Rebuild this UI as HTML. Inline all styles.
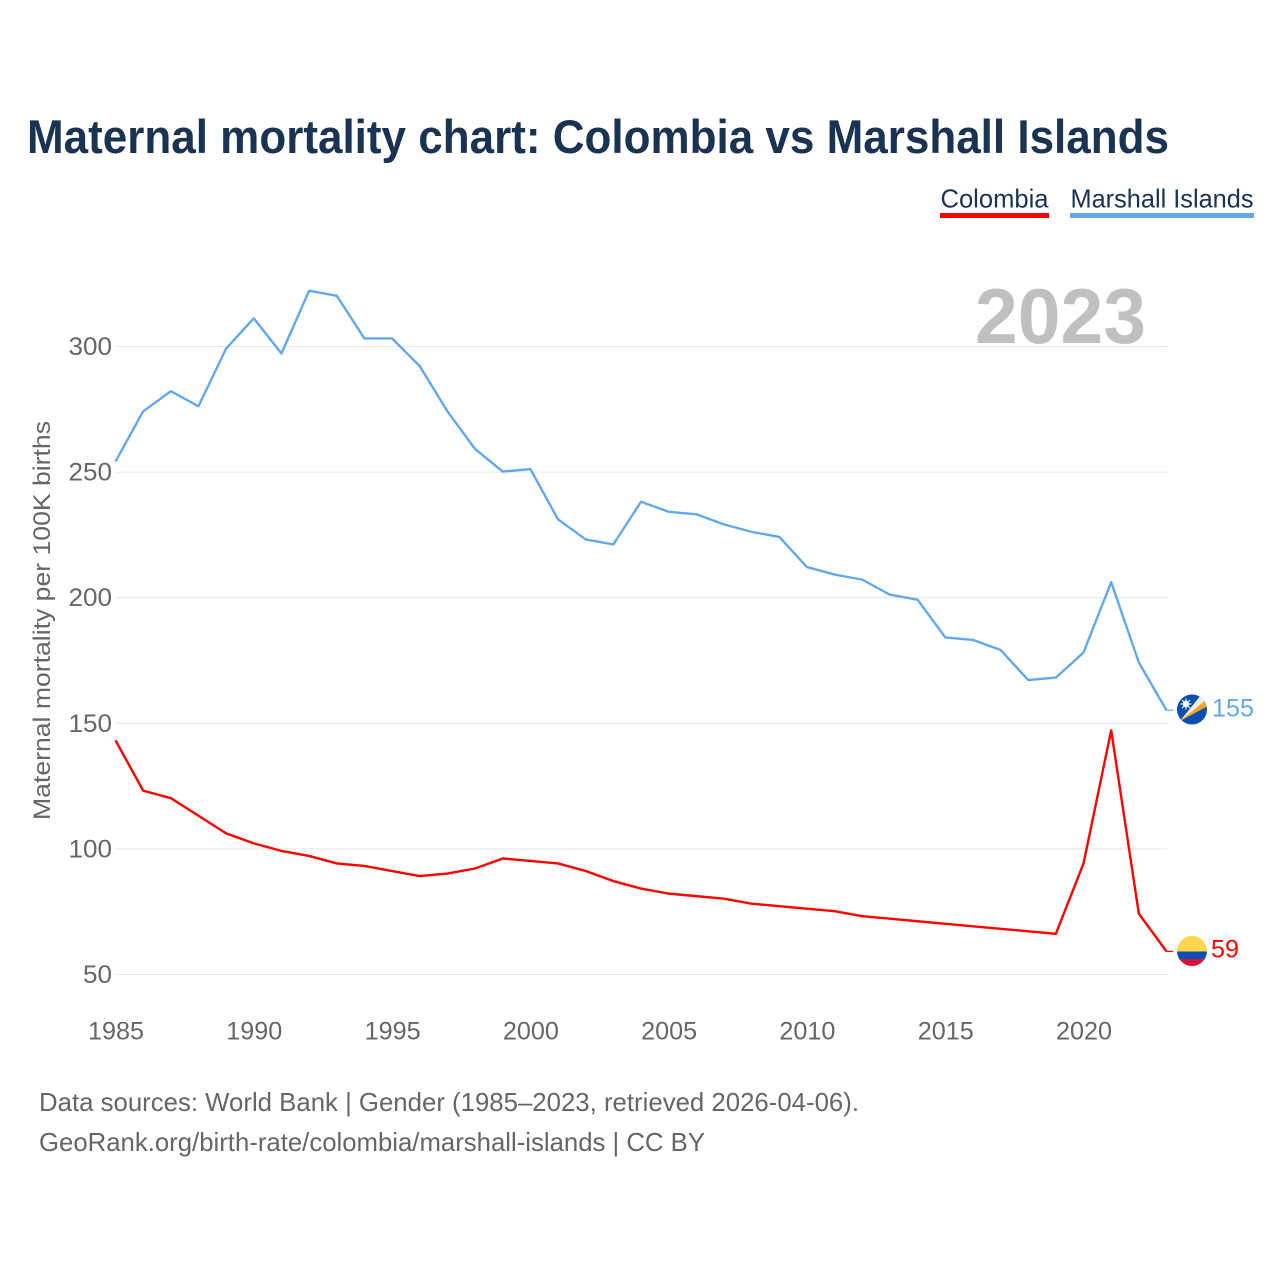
<!DOCTYPE html>
<html lang="en">
<head>
<meta charset="utf-8">
<title>Maternal mortality chart: Colombia vs Marshall Islands</title>
<style>
html,body{margin:0;padding:0;background:#fff;width:1280px;height:1280px;overflow:hidden}
svg{display:block}
text{font-family:"Liberation Sans",sans-serif}
</style>
</head>
<body>
<svg id="chart" xmlns="http://www.w3.org/2000/svg" width="1280" height="1280" viewBox="0 0 1280 1280">
  <rect x="0" y="0" width="1280" height="1280" fill="#ffffff"/>
  <text x="27" y="153" font-size="47" font-weight="700" fill="#1a3353" textLength="1142" lengthAdjust="spacingAndGlyphs">Maternal mortality chart: Colombia vs Marshall Islands</text>

  <g>
    <text x="940.5" y="207.5" font-size="26" fill="#1a3353" textLength="108" lengthAdjust="spacingAndGlyphs">Colombia</text>
    <rect x="940" y="213" width="109" height="5" fill="#ff0000"/>
  </g>
  <g>
    <text x="1070.5" y="207.5" font-size="26" fill="#1a3353" textLength="183" lengthAdjust="spacingAndGlyphs">Marshall Islands</text>
    <rect x="1070" y="213" width="184" height="5" fill="#64a8ec"/>
  </g>

  <g id="grid"></g>
  <text x="975" y="343" font-size="78" font-weight="700" fill="#c0c0c0" textLength="171" lengthAdjust="spacingAndGlyphs">2023</text>
  <g id="yticks"></g>
  <g id="xticks"></g>
  <text transform="translate(50,820) rotate(-90)" x="0" y="0" font-size="24" fill="#666666" textLength="399" lengthAdjust="spacingAndGlyphs">Maternal mortality per 100K births</text>

  <g id="series"></g>

  <defs>
    <clipPath id="clip-mh"><circle cx="1192" cy="709.5" r="15"/></clipPath>
    <clipPath id="clip-co"><circle cx="1192" cy="951" r="15"/></clipPath>
  </defs>
  <g clip-path="url(#clip-mh)">
    <rect x="1177" y="694" width="30" height="31" fill="#0a4fb0"/>
    <polygon points="1180,721 1201,695 1208,700" fill="#f0f0f0"/>
    <polygon points="1180,721 1207,699 1208,706" fill="#f5a623"/>
    <circle cx="1186" cy="704" r="3.2" fill="#ffffff"/>
    <path d="M1186 698.5V709.5M1180.5 704H1191.5M1182 700L1190 708M1190 700L1182 708" stroke="#ffffff" stroke-width="1.1"/>
  </g>
  <g clip-path="url(#clip-co)">
    <rect x="1177" y="936" width="30" height="15.5" fill="#fdd54f"/>
    <rect x="1177" y="951.5" width="30" height="7.5" fill="#0a4fb0"/>
    <rect x="1177" y="959" width="30" height="7" fill="#d8103a"/>
  </g>
  <text id="end-mh" x="1212" y="716.5" font-size="25" fill="#64a8ec" textLength="42" lengthAdjust="spacingAndGlyphs"></text>
  <text id="end-co" x="1211" y="957.5" font-size="25" fill="#ff0000" textLength="28" lengthAdjust="spacingAndGlyphs"></text>

  <text x="39" y="1111" font-size="26" fill="#666666" textLength="820" lengthAdjust="spacingAndGlyphs">Data sources: World Bank | Gender (1985–2023, retrieved 2026-04-06).</text>
  <text x="39" y="1151" font-size="26" fill="#666666" textLength="666" lengthAdjust="spacingAndGlyphs">GeoRank.org/birth-rate/colombia/marshall-islands | CC BY</text>
</svg>
<script>
const startYear = 1985;
const colombiaValues = [143,123,120,113,106,102,99,97,94,93,91,89,90,92,96,95,94,91,87,84,82,81,80,78,77,76,75,73,72,71,70,69,68,67,66,94,147,74,59];
const marshallValues = [254,274,282,276,299,311,297,322,320,303,303,292,274,259,250,251,231,223,221,238,234,233,229,226,224,212,209,207,201,199,184,183,179,167,168,178,206,174,155];
const yTickValues = [50,100,150,200,250,300];
const xTickYears = [1985,1990,1995,2000,2005,2010,2015,2020];

const NS = 'http://www.w3.org/2000/svg';
function xScale(year) { return 116 + (year - 1985) * (1167 - 116) / 38; }
function yScale(v) { return 974.5 - (v - 50) * (974.5 - 346.5) / 250; }

const grid = document.getElementById('grid');
const yticks = document.getElementById('yticks');
const xticks = document.getElementById('xticks');
const series = document.getElementById('series');

yTickValues.forEach(function (v) {
  const line = document.createElementNS(NS, 'line');
  
  
  line.setAttribute('x1', 116);
  line.setAttribute('x2', 1167);
  line.setAttribute('y1', yScale(v));
  line.setAttribute('y2', yScale(v));
  line.setAttribute('stroke', '#e6e6e6');
  line.setAttribute('stroke-width', '1');
  grid.appendChild(line);

  const t = document.createElementNS(NS, 'text');
  
  
  const s = String(v);
  const w = s.length * 14.5;
  t.setAttribute('x', 112 - w);
  t.setAttribute('y', yScale(v) + 8.5);
  t.setAttribute('font-size', '25');
  t.setAttribute('fill', '#666666');
  t.setAttribute('textLength', w);
  t.setAttribute('lengthAdjust', 'spacingAndGlyphs');
  t.textContent = s;
  yticks.appendChild(t);
});

xTickYears.forEach(function (yr) {
  const t = document.createElementNS(NS, 'text');
  
  
  t.setAttribute('x', xScale(yr) - 28);
  t.setAttribute('y', 1039.5);
  t.setAttribute('font-size', '25');
  t.setAttribute('fill', '#666666');
  t.setAttribute('textLength', 56);
  t.setAttribute('lengthAdjust', 'spacingAndGlyphs');
  t.textContent = String(yr);
  xticks.appendChild(t);
});

function pathFor(values) {
  const pts = values.map(function (v, i) {
    return (xScale(startYear + i) - 0.5).toFixed(2) + ',' + (yScale(v) - 0.5).toFixed(2);
  });
  return 'M' + pts.join('L');
}

function connectorFor(values) {
  const last = values[values.length - 1];
  const year = startYear + values.length - 1;
  const y = (yScale(last) - 0.5).toFixed(2);
  return 'M' + (xScale(year) - 0.5).toFixed(2) + ',' + y + 'L' + (xScale(year) + 6).toFixed(2) + ',' + y;
}

const marshallLine = document.createElementNS(NS, 'path');


marshallLine.setAttribute('d', pathFor(marshallValues));
marshallLine.setAttribute('fill', 'none');
marshallLine.setAttribute('stroke', '#64a8ec');
marshallLine.setAttribute('stroke-width', '2.4');
marshallLine.setAttribute('stroke-linejoin', 'round');
series.appendChild(marshallLine);

const marshallConnector = document.createElementNS(NS, 'path');


marshallConnector.setAttribute('d', connectorFor(marshallValues));
marshallConnector.setAttribute('fill', 'none');
marshallConnector.setAttribute('stroke', '#64a8ec');
marshallConnector.setAttribute('stroke-width', '1.2');
series.appendChild(marshallConnector);

const colombiaLine = document.createElementNS(NS, 'path');


colombiaLine.setAttribute('d', pathFor(colombiaValues));
colombiaLine.setAttribute('fill', 'none');
colombiaLine.setAttribute('stroke', '#ff0000');
colombiaLine.setAttribute('stroke-width', '2.4');
colombiaLine.setAttribute('stroke-linejoin', 'round');
series.appendChild(colombiaLine);

const colombiaConnector = document.createElementNS(NS, 'path');


colombiaConnector.setAttribute('d', connectorFor(colombiaValues));
colombiaConnector.setAttribute('fill', 'none');
colombiaConnector.setAttribute('stroke', '#ff0000');
colombiaConnector.setAttribute('stroke-width', '1.2');
series.appendChild(colombiaConnector);

document.getElementById('end-mh').textContent = String(marshallValues[marshallValues.length - 1]);
document.getElementById('end-co').textContent = String(colombiaValues[colombiaValues.length - 1]);
</script>
</body>
</html>
